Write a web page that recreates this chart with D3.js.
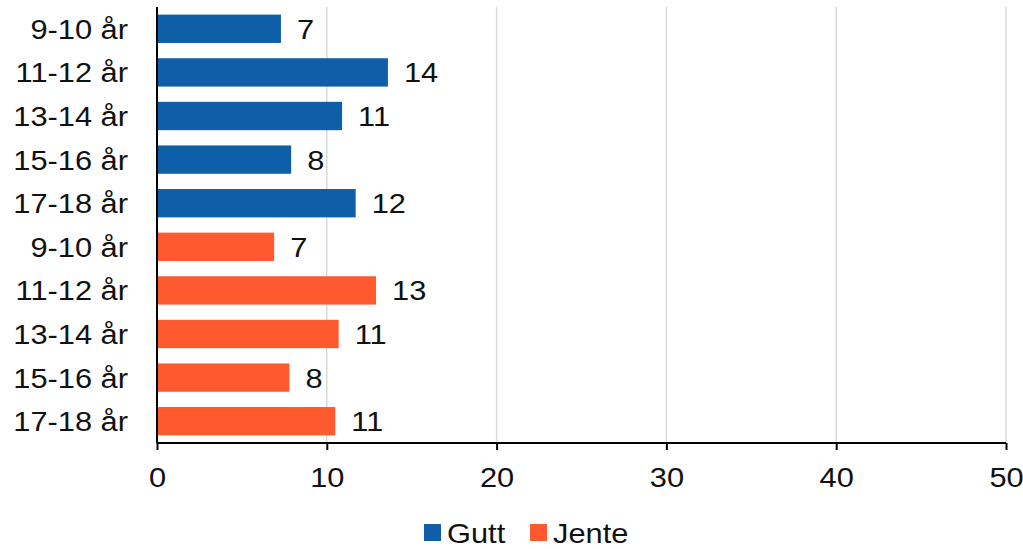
<!DOCTYPE html>
<html>
<head>
<meta charset="utf-8">
<script src="https://cdn.jsdelivr.net/npm/d3@7"></script>
<style>
  body { margin: 0; background: #fff; }
  svg text { font-family: "Liberation Sans", Arial, sans-serif; fill: #111; }
</style>
</head>
<body>
<div id="chart"></div>
<script>
// data
let ageGroups = ["9-10 år", "11-12 år", "13-14 år", "15-16 år", "17-18 år"];
let guttValues = [7.3, 13.6, 10.9, 7.9, 11.7];
let jenteValues = [6.9, 12.9, 10.7, 7.8, 10.5];
let seriesNames = ["Gutt", "Jente"];
let xTicks = [0, 10, 20, 30, 40, 50];

let colors = { Gutt: "#0e5ea8", Jente: "#ff5a2f" };
let width = 1023;
let height = 549;
let margin = { top: 7, right: 17, bottom: 106, left: 157 };
let fontSize = 28;
let stretch = 1.1; // text in the original is a bit wider than plain Arial

let rows = [];
ageGroups.forEach((g, i) => rows.push({ key: "g" + i, label: g, value: guttValues[i], series: "Gutt" }));
ageGroups.forEach((g, i) => rows.push({ key: "j" + i, label: g, value: jenteValues[i], series: "Jente" }));

let svg = d3.select("#chart").append("svg")
  .attr("width", width)
  .attr("height", height);

let scaleX = d3.scaleLinear()
  .domain([0, 50])
  .range([margin.left, width - margin.right]);

let scaleY = d3.scaleBand()
  .domain(rows.map(d => d.key))
  .range([margin.top, height - margin.bottom])
  .paddingInner(0.35)
  .paddingOuter(0.175);

let plotBottom = height - margin.bottom;

const place = (x, y) => `translate(${x}, ${y}) scale(${stretch}, 1)`;

// gridlines
svg.append("g")
  .selectAll("line")
  .data(xTicks.filter(d => d > 0))
  .join("line")
  .attr("x1", d => scaleX(d))
  .attr("x2", d => scaleX(d))
  .attr("y1", margin.top)
  .attr("y2", plotBottom)
  .attr("stroke", "#d9d9d9")
  .attr("stroke-width", 1.5);

// bars
svg.append("g")
  .selectAll("rect")
  .data(rows)
  .join("rect")
  .attr("x", scaleX(0))
  .attr("y", d => scaleY(d.key))
  .attr("width", d => scaleX(d.value) - scaleX(0))
  .attr("height", scaleY.bandwidth())
  .attr("fill", d => colors[d.series]);

// value labels
svg.append("g")
  .selectAll("text")
  .data(rows)
  .join("text")
  .attr("transform", d => place(scaleX(d.value) + 16, scaleY(d.key) + scaleY.bandwidth() / 2))
  .attr("dy", "0.36em")
  .style("font-size", fontSize + "px")
  .text(d => Math.round(d.value));

// category labels
svg.append("g")
  .selectAll("text")
  .data(rows)
  .join("text")
  .attr("transform", d => place(margin.left - 29, scaleY(d.key) + scaleY.bandwidth() / 2))
  .attr("dy", "0.36em")
  .attr("text-anchor", "end")
  .style("font-size", fontSize + "px")
  .text(d => d.label);

// x axis
const axisX = d3.axisBottom(scaleX)
  .tickValues(xTicks)
  .tickSize(7)
  .tickPadding(17)
  .tickFormat(d3.format("d"));

const gx = svg.append("g")
  .attr("transform", `translate(0, ${plotBottom})`)
  .call(axisX);
gx.select(".domain").attr("stroke", "#000").attr("stroke-width", 2).attr("d", `M${scaleX(0)},0H${scaleX(50)}`);
gx.selectAll(".tick line").attr("stroke", "#000").attr("stroke-width", 2);
gx.selectAll(".tick text")
  .attr("transform", `scale(${stretch}, 1)`)
  .attr("x", 0)
  .style("font-size", fontSize + "px")
  .style("font-family", '"Liberation Sans", Arial, sans-serif')
  .attr("fill", "#111");

// y axis line
svg.append("line")
  .attr("x1", scaleX(0))
  .attr("x2", scaleX(0))
  .attr("y1", margin.top)
  .attr("y2", plotBottom)
  .attr("stroke", "#000")
  .attr("stroke-width", 2);

// legend (nudged up a few px so the text box stays inside the frame)
const legend = svg.append("g").attr("transform", "translate(424, 524)");
const legendOffsets = [0, 106];
seriesNames.forEach((s, i) => {
  const item = legend.append("g").attr("transform", `translate(${legendOffsets[i]}, 0)`);
  item.append("rect")
    .attr("width", 17)
    .attr("height", 17)
    .attr("fill", colors[s]);
  const t = item.append("text")
    .attr("x", 23)
    .attr("y", 8.5)
    .attr("dy", "0.36em")
    .style("font-size", fontSize + "px")
    .text(s);
  const w = t.node().getComputedTextLength();
  t.attr("textLength", w * stretch).attr("lengthAdjust", "spacingAndGlyphs");
});
</script>
</body>
</html>
